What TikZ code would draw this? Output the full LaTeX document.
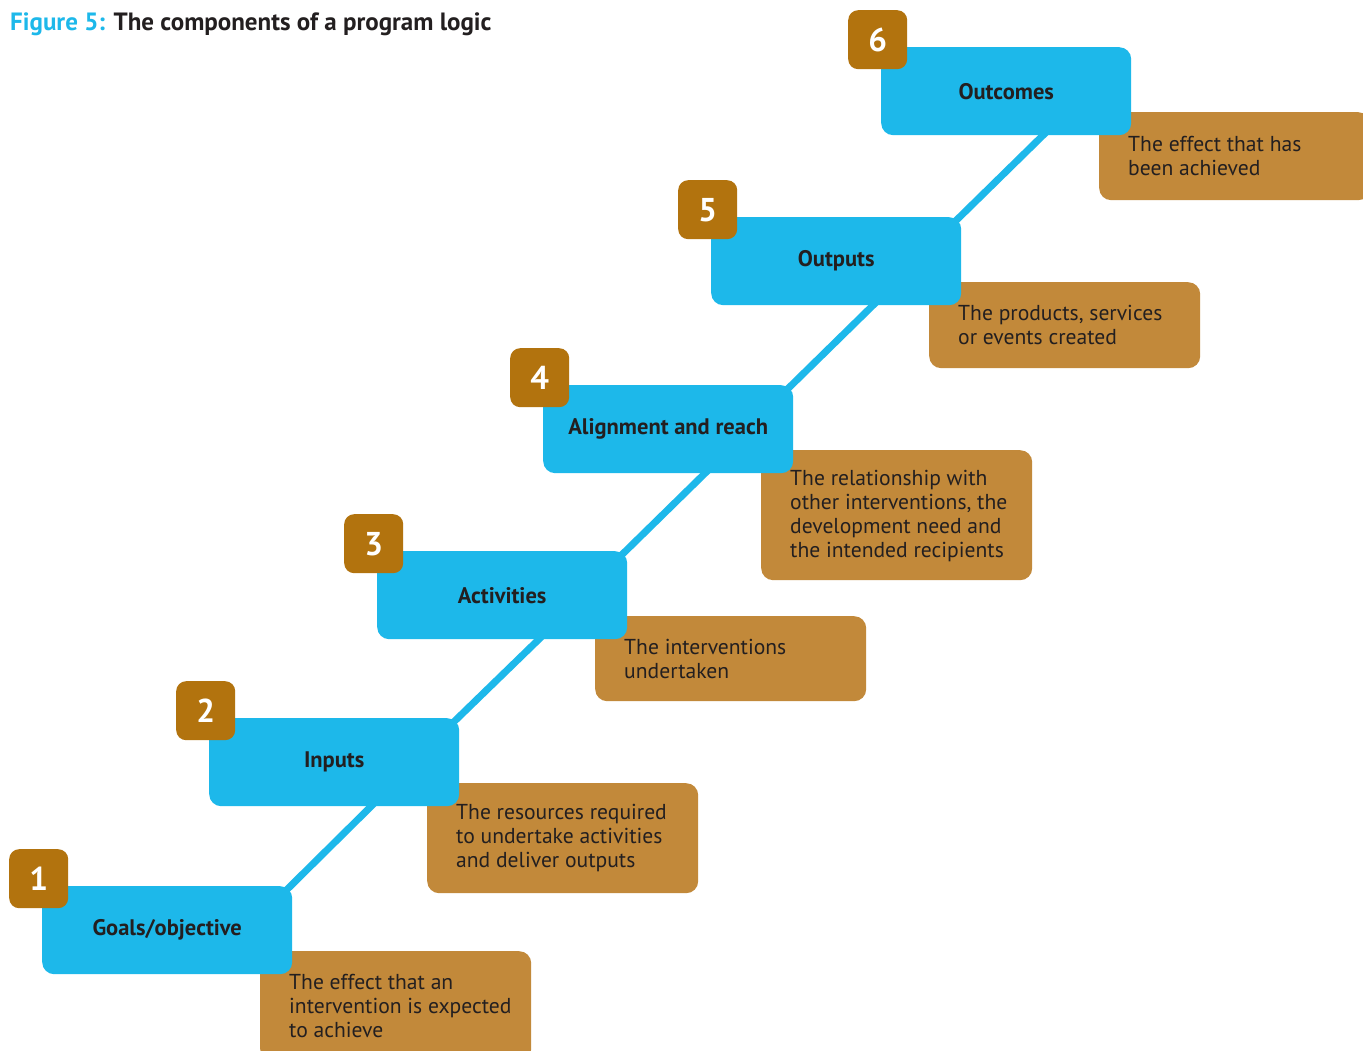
\documentclass[tikz,border=0pt]{standalone}
\usepackage{fontspec}
\setmainfont{PT Sans}
\usetikzlibrary{backgrounds,calc}
\definecolor{skyblue}{HTML}{1DB8EA}
\definecolor{badgegold}{HTML}{B2730E}
\definecolor{descbrown}{HTML}{C2893A}
\definecolor{inkdark}{HTML}{231F20}
\begin{document}
\begin{tikzpicture}[x=1pt,y=1pt,
  stage/.style={rectangle,rounded corners=12pt,fill=skyblue,minimum width=250pt,minimum height=88pt,anchor=north west,inner sep=0pt,text=inkdark,font=\fontsize{22.5}{26}\selectfont\bfseries},
  badge/.style={rectangle,rounded corners=10pt,fill=badgegold,minimum width=59pt,minimum height=59pt,anchor=north west,inner sep=0pt,text=white,font=\fontsize{33}{36}\selectfont\bfseries},
  desc/.style={rectangle,rounded corners=12pt,fill=descbrown,minimum width=271pt,anchor=north west,inner sep=0pt},
  desctext/.style={anchor=west,inner sep=0pt,align=left,text=inkdark,font=\fontsize{21.6}{24}\selectfont},
  link/.style={draw=skyblue,line width=7pt}]
\useasboundingbox (0,0) rectangle (1363,1050);

\node[anchor=west,inner sep=0pt,font=\fontsize{25}{28}\selectfont\bfseries,text=inkdark] (title) at (10,1026) {\textcolor{skyblue}{Figure 5:} The components of a program logic};

% descriptions
\node[desc,minimum height=110pt] (d1) at (260,99) {};
\node[desc,minimum height=110pt] (d2) at (427,267) {};
\node[desc,minimum height=85pt] (d3) at (595,434) {};
\node[desc,minimum height=130pt] (d4) at (761,600) {};
\node[desc,minimum height=86pt] (d5) at (929,768) {};
\node[desc,minimum height=88pt] (d6) at (1099,938) {};
\node[desctext] (t1) at ($(d1.west)+(29,0)$) {The effect that an\\intervention is expected\\to achieve};
\node[desctext] (t2) at ($(d2.west)+(29,0)$) {The resources required\\to undertake activities\\and deliver outputs};
\node[desctext] (t3) at ($(d3.west)+(29,0)$) {The interventions\\undertaken};
\node[desctext] (t4) at ($(d4.west)+(29,-1)$) {The relationship with\\other interventions, the\\development need and\\the intended recipients};
\node[desctext] (t5) at ($(d5.west)+(29,0)$) {The products, services\\or events created};
\node[desctext] (t6) at ($(d6.west)+(29,0)$) {The effect that has\\been achieved};

% stages
\node[stage] (b1) at (42,164) {Goals/objective};
\node[stage] (b2) at (209,332) {Inputs};
\node[stage] (b3) at (377,499) {Activities};
\node[stage] (b4) at (543,665) {Alignment and reach};
\node[stage] (b5) at (711,833) {Outputs};
\node[stage] (b6) at (881,1003) {Outcomes};

% badges
\node[badge] (n1) at (9,201) {1};
\node[badge] (n2) at (176,369) {2};
\node[badge] (n3) at (344,536) {3};
\node[badge] (n4) at (510,702) {4};
\node[badge] (n5) at (678,870) {5};
\node[badge] (n6) at (848,1040) {6};

\begin{pgfonlayer}{background}
\fill[white] (0,0) rectangle (1363,1050);
\foreach \a/\b in {b1/b2,b2/b3,b3/b4,b4/b5,b5/b6}{
  \draw[link] ($(\a.north east)+(-17,-15)$) -- ($(\b.south)+(52,15)$);
}
\end{pgfonlayer}
\end{tikzpicture}
\end{document}
